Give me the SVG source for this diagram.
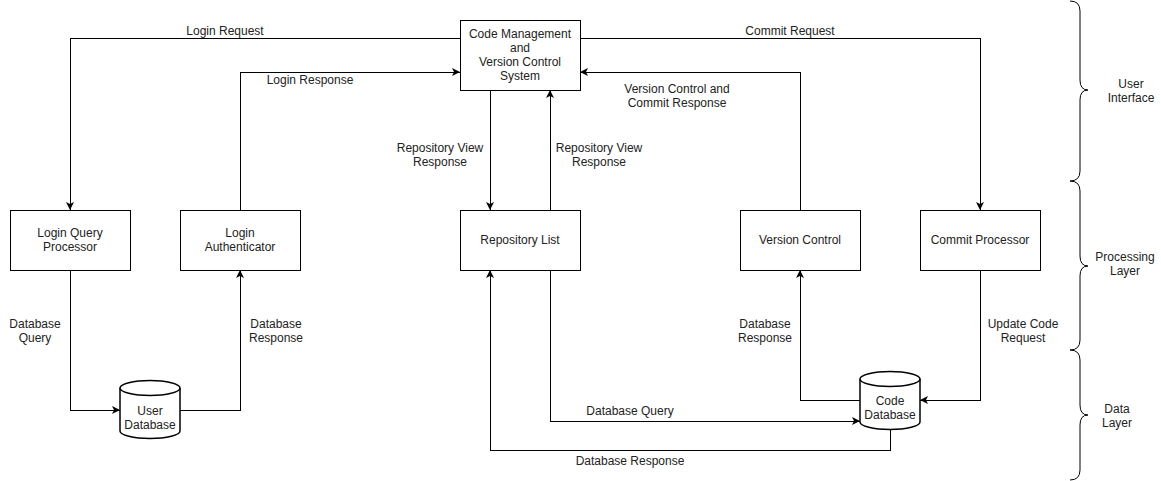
<svg xmlns="http://www.w3.org/2000/svg" width="1161" height="481" viewBox="0 0 1161 481">
<style>
text{font-family:"Liberation Sans",Arial,sans-serif;font-size:12px;fill:#222;text-anchor:middle}
.box{fill:#fff;stroke:#000;stroke-width:1;shape-rendering:crispEdges}
.db{fill:#fff;stroke:#000;stroke-width:1.5}
.c{fill:none;stroke:#000;stroke-width:1;shape-rendering:crispEdges}
.br{fill:none;stroke:#000;stroke-width:1}
</style>
<defs>
<marker id="a" viewBox="0 0 10 10" refX="10" refY="5" markerWidth="8" markerHeight="8" markerUnits="userSpaceOnUse" orient="auto">
<path d="M0,0 L10,5 L0,10 L2.5,5 Z" fill="#000" style="shape-rendering:auto"/>
</marker>
</defs>
<rect width="1161" height="481" fill="#fff"/>
<g id="connectors">
<path class="c" d="M460,38 H70 V210" marker-end="url(#a)"/>
<path class="c" d="M240,210 V72 H460" marker-end="url(#a)"/>
<path class="c" d="M580,38 H980 V210" marker-end="url(#a)"/>
<path class="c" d="M800,210 V72 H580" marker-end="url(#a)"/>
<path class="c" d="M490,90 V210" marker-end="url(#a)"/>
<path class="c" d="M550,210 V90" marker-end="url(#a)"/>
<path class="c" d="M70,270 V410 H120" marker-end="url(#a)"/>
<path class="c" d="M180,410 H240 V270" marker-end="url(#a)"/>
<path class="c" d="M980,270 V400 H920" marker-end="url(#a)"/>
<path class="c" d="M860,400 H800 V270" marker-end="url(#a)"/>
<path class="c" d="M550,270 V421 H860" marker-end="url(#a)"/>
<path class="c" d="M890,430 V450 H490 V270" marker-end="url(#a)"/>
<text x="225" y="35">Login Request</text>
<text x="310" y="84">Login Response</text>
<text x="790" y="35">Commit Request</text>
<text x="677" y="93">Version Control and</text>
<text x="677" y="107">Commit Response</text>
<text x="440" y="152">Repository View</text>
<text x="440" y="166">Response</text>
<text x="599" y="152">Repository View</text>
<text x="599" y="166">Response</text>
<text x="35" y="328">Database</text>
<text x="35" y="342">Query</text>
<text x="276" y="328">Database</text>
<text x="276" y="342">Response</text>
<text x="765" y="328">Database</text>
<text x="765" y="342">Response</text>
<text x="1023" y="328">Update Code</text>
<text x="1023" y="342">Request</text>
<text x="630" y="415">Database Query</text>
<text x="630" y="465">Database Response</text>
</g>
<g id="code-management">
<rect class="box" x="460" y="20" width="120" height="70"/>
<text x="520" y="38">Code Management</text>
<text x="520" y="52">and</text>
<text x="520" y="66">Version Control</text>
<text x="520" y="80">System</text>
</g>
<g id="login-query-processor">
<rect class="box" x="10" y="210" width="120" height="60"/>
<text x="70" y="237">Login Query</text>
<text x="70" y="251">Processor</text>
</g>
<g id="login-authenticator">
<rect class="box" x="180" y="210" width="120" height="60"/>
<text x="240" y="237">Login</text>
<text x="240" y="251">Authenticator</text>
</g>
<g id="repository-list">
<rect class="box" x="460" y="210" width="120" height="60"/>
<text x="520" y="244">Repository List</text>
</g>
<g id="version-control">
<rect class="box" x="740" y="210" width="120" height="60"/>
<text x="800" y="244">Version Control</text>
</g>
<g id="commit-processor">
<rect class="box" x="920" y="210" width="120" height="60"/>
<text x="980" y="244">Commit Processor</text>
</g>
<g id="user-database">
<path class="db" d="M120,388 A30,7.5 0 0 1 180,388 V431 A30,7.5 0 0 1 120,431 Z"/>
<path class="db" d="M120,388 A30,7.5 0 0 0 180,388"/>
<text x="150" y="415">User</text>
<text x="150" y="429">Database</text>
</g>
<g id="code-database">
<path class="db" d="M860,379 A30,7.5 0 0 1 920,379 V422 A30,7.5 0 0 1 860,422 Z"/>
<path class="db" d="M860,379 A30,7.5 0 0 0 920,379"/>
<text x="890" y="405">Code</text>
<text x="890" y="419">Database</text>
</g>
<g id="layer-user-interface">
<path class="br" d="M1070,1 Q1080,1 1080,11 V80 Q1080,90 1088,90 Q1080,90 1080,100 V171 Q1080,181 1070,181"/>
<text x="1131" y="88">User</text>
<text x="1131" y="102">Interface</text>
</g>
<g id="layer-processing">
<path class="br" d="M1070,181 Q1080,181 1080,191 V256 Q1080,266 1088,266 Q1080,266 1080,276 V340 Q1080,350 1070,350"/>
<text x="1125" y="261">Processing</text>
<text x="1125" y="275">Layer</text>
</g>
<g id="layer-data">
<path class="br" d="M1070,350 Q1080,350 1080,360 V405 Q1080,415 1088,415 Q1080,415 1080,425 V470 Q1080,480 1070,480"/>
<text x="1117" y="413">Data</text>
<text x="1117" y="427">Layer</text>
</g>
</svg>
